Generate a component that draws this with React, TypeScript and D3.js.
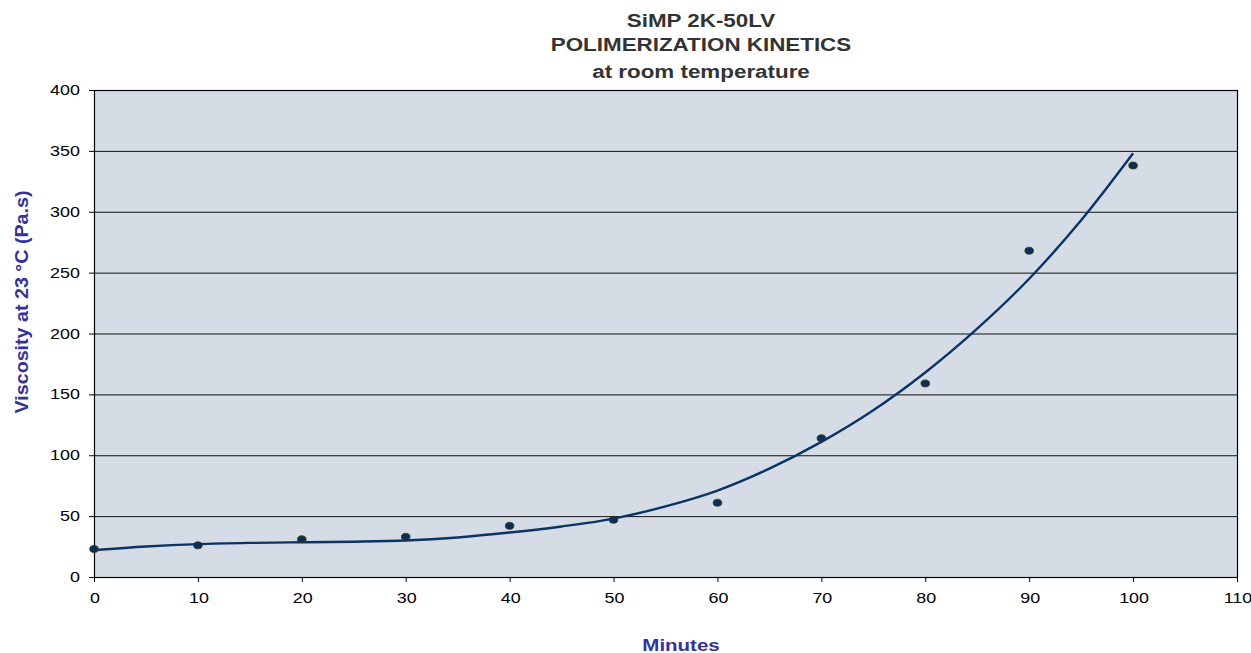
import { useEffect, useRef } from 'react';
import * as d3 from 'd3';

// measured points (minutes, Pa.s)
const measMinutes = [0, 10, 20, 30, 40, 50, 60, 70, 80, 90, 100];
const measViscosity = [23, 26, 31, 33, 42, 47, 61, 114, 159, 268, 338];

// trend curve
const trendMinutes = [0, 5, 10, 15, 20, 25, 30, 35, 40, 45, 50, 55, 60, 65, 70, 75, 80, 85, 90, 95, 100];
const trendViscosity = [22, 25, 27, 28, 28.5, 29, 30, 32.5, 36.5, 41.5, 48, 58, 71, 89, 111, 137, 168, 204, 245, 293, 348];

const xTicks = [0, 10, 20, 30, 40, 50, 60, 70, 80, 90, 100, 110];
const yTicks = [0, 50, 100, 150, 200, 250, 300, 350, 400];

const titleLines = ['SiMP 2K-50LV', 'POLIMERIZATION KINETICS', 'at room temperature'];

export default function App() {
    const svgRef = useRef<SVGSVGElement>(null);

    useEffect(() => {
        if (!svgRef.current) return;
        const svg = d3.select(svgRef.current);
        svg.selectAll('*').remove();

        const left = 94, right = 1237, top = 90, bottom = 577;
        const x = d3.scaleLinear().domain([0, 110]).range([left, right]);
        const y = d3.scaleLinear().domain([0, 400]).range([bottom, top]);
        const font = 'Liberation Sans, Arial, sans-serif';
        // the original picture is stretched sideways, so text is too
        const sx = 1.28;

        svg.append('rect')
            .attr('x', left).attr('y', top)
            .attr('width', right - left).attr('height', bottom - top)
            .attr('fill', '#d6dce6');

        // gridlines
        svg.append('g')
            .selectAll('line')
            .data(yTicks.slice(1, -1))
            .join('line')
            .attr('x1', left).attr('x2', right)
            .attr('y1', d => y(d) + 0.5).attr('y2', d => y(d) + 0.5)
            .attr('stroke', '#111').attr('stroke-width', 1);

        svg.append('rect')
            .attr('x', left + 0.5).attr('y', top + 0.5)
            .attr('width', right - left).attr('height', bottom - top)
            .attr('fill', 'none').attr('stroke', '#000').attr('stroke-width', 1.2);

        // y ticks
        const yAxis = svg.append('g');
        yAxis.selectAll('line')
            .data(yTicks)
            .join('line')
            .attr('x1', left - 5).attr('x2', left)
            .attr('y1', d => y(d) + 0.5).attr('y2', d => y(d) + 0.5)
            .attr('stroke', '#000');
        yAxis.selectAll('text')
            .data(yTicks)
            .join('text')
            .attr('transform', d => `translate(${left - 14},${y(d) + 5}) scale(${sx},1)`)
            .attr('text-anchor', 'end')
            .attr('font-family', font).attr('font-size', 14)
            .text(d => d);

        // x ticks
        const xAxis = svg.append('g');
        xAxis.selectAll('line')
            .data(xTicks)
            .join('line')
            .attr('x1', d => x(d) + 0.5).attr('x2', d => x(d) + 0.5)
            .attr('y1', bottom).attr('y2', bottom + 5)
            .attr('stroke', '#000');
        xAxis.selectAll('text')
            .data(xTicks)
            .join('text')
            .attr('transform', d => `translate(${x(d) + 1},${bottom + 26}) scale(${sx},1)`)
            .attr('text-anchor', 'middle')
            .attr('font-family', font).attr('font-size', 14)
            .text(d => d);

        // trend line
        const line = d3.line<number>()
            .x((_, i) => x(trendMinutes[i]))
            .y(d => y(d))
            .curve(d3.curveCatmullRom);
        svg.append('path')
            .datum(trendViscosity)
            .attr('d', line)
            .attr('fill', 'none')
            .attr('stroke', '#0a3366')
            .attr('stroke-width', 2.4);

        // measured points
        svg.append('g')
            .selectAll('ellipse')
            .data(measViscosity)
            .join('ellipse')
            .attr('cx', (_, i) => x(measMinutes[i]))
            .attr('cy', d => y(d))
            .attr('rx', 4.3).attr('ry', 3.5)
            .attr('fill', '#0a2d5a')
            .attr('stroke', '#3a3a10').attr('stroke-width', 0.8);

        // titles
        svg.append('g')
            .selectAll('text')
            .data(titleLines)
            .join('text')
            .attr('transform', (_, i) => `translate(701,${[27, 51, 78][i]}) scale(${sx},1)`)
            .attr('text-anchor', 'middle')
            .attr('font-family', font).attr('font-weight', 'bold').attr('font-size', 17.5)
            .attr('fill', '#333')
            .text(d => d);

        svg.append('text')
            .attr('transform', `translate(681,651) scale(${sx},1)`)
            .attr('text-anchor', 'middle')
            .attr('font-family', font).attr('font-weight', 'bold').attr('font-size', 16)
            .attr('fill', '#333399')
            .text('Minutes');

        svg.append('text')
            .attr('transform', 'translate(28,302) rotate(-90)')
            .attr('text-anchor', 'middle')
            .attr('font-family', font).attr('font-weight', 'bold').attr('font-size', 18)
            .attr('textLength', 223).attr('lengthAdjust', 'spacingAndGlyphs')
            .attr('fill', '#333399')
            .text('Viscosity at 23 °C (Pa.s)');
    }, []);

    return (
        <svg ref={svgRef} width={1251} height={653}
            style={{ position: 'absolute', left: 0, top: 0, background: '#fff' }} />
    );
}
